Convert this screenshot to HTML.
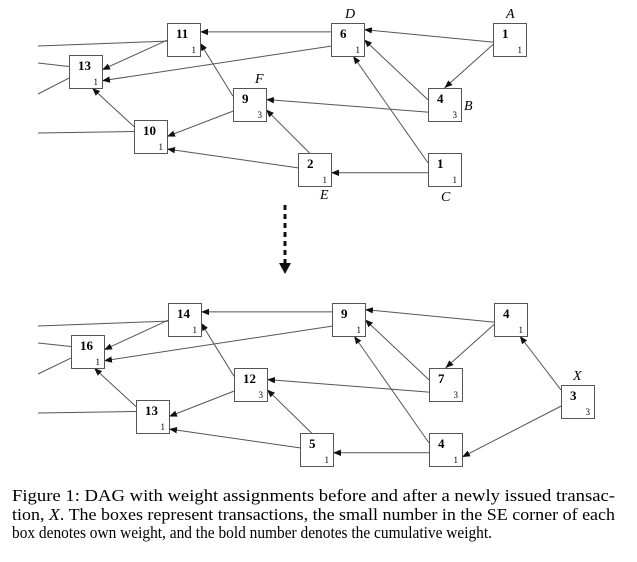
<!DOCTYPE html>
<html><head><meta charset="utf-8"><style>
body{margin:0;background:#fff}
svg{display:block}
.b{font-family:"Liberation Serif",serif;font-weight:bold;font-size:13px}
.s{font-family:"Liberation Serif",serif;font-size:9px}
.l{font-family:"Liberation Serif",serif;font-style:italic;font-size:14px}
.c{font-family:"Liberation Serif",serif;font-size:17px}
</style></head><body>
<svg id="g" width="637" height="562" viewBox="0 0 637 562">
<defs><marker id="ah" viewBox="0 0 10 10" refX="10" refY="5" markerWidth="8" markerHeight="8" markerUnits="userSpaceOnUse" orient="auto"><path d="M0,1 L10,5 L0,9 z" fill="#111"/></marker></defs>
<g id="edges"></g><g id="nodes"></g>
<g>
<line x1="285" y1="205" x2="285" y2="264" stroke="#111" stroke-width="3" stroke-dasharray="5,4"/>
<path d="M279,263 L291,263 L285,274 z" fill="#111"/>
</g>
<text class="c" x="12" y="501" textLength="603" lengthAdjust="spacingAndGlyphs">Figure 1: DAG with weight assignments before and after a newly issued transac-</text>
<text class="c" x="12" y="520" textLength="603" lengthAdjust="spacingAndGlyphs">tion, <tspan font-style="italic">X</tspan>. The boxes represent transactions, the small number in the SE corner of each</text>
<text class="c" x="12" y="538" textLength="480" lengthAdjust="spacingAndGlyphs">box denotes own weight, and the bold number denotes the cumulative weight.</text>
</svg>
<script>
const nodeIds=['t11','t6','tA','t13','t9','tB','t10','t2','tC','b14','b9','b4','b16','b12','b7','bX','b13','b5','b4b'];
const nodeX=[167,331,493,69,233,428,134,298,428,168,332,494,71,234,429,561,136,300,429];
const nodeY=[23,23,23,55,88,88,120,153,153,303,303,303,335,368,368,385,400,433,433];
const cumWeights=['11','6','1','13','9','4','10','2','1','14','9','4','16','12','7','3','13','5','4'];
const ownWeights=['1','1','1','1','3','3','1','1','1','1','1','1','1','3','3','3','1','1','1'];
const labels=['','D','A','','F','B','','E','C','','','','','','','X','','',''];
const labelPos={D:[14,-5],A:[13,-5],F:[22,-5],B:[36,22],E:[22,46],C:[13,48],X:[12,-5]};
const edgeFrom=['t6','tA','tA','t6','t11','tB','tB','tC','tC','t9','t9','t2','t2','t10',
 'b9','b4','b4','b9','b14','b7','b7','b4b','b4b','b12','b12','b5','b5','b13','bX','bX'];
const edgeTo=['t11','t6','tB','t13','t13','t6','t9','t6','t2','t11','t10','t9','t10','t13',
 'b14','b9','b7','b16','b16','b9','b12','b9','b5','b14','b13','b12','b13','b16','b4','b4b'];
// attachment points on the boxes (fractions of box side): [fromFx, fromFy, toFx, toFy]
const topAnchors=[[0,.27,1,.27],[0,.58,1,.2],[0,.65,.5,0],[0,.7,1,.78],[0,.52,1,.45],[0,.36,1,.5],[0,.73,1,.35],[0,.3,.67,1],[0,.6,1,.6],[0,.25,1,.6],[0,.7,1,.5],[.35,0,1,.65],[0,.45,1,.88],[0,.2,.7,1]];
const xAnchors=[[0,.15,.78,1],[0,.64,1,.73]];
const anchors=topAnchors.concat(topAnchors,xAnchors);
const stubs=[[38,46,'t11',0,.55],[38,63,'t13',0,.35],[38,94,'t13',0,.7],[38,133,'t10',0,.35],[38,326,'b14',0,.55],[38,343,'b16',0,.35],[38,374,'b16',0,.7],[38,413,'b13',0,.35]];
const S=33, ns='http://www.w3.org/2000/svg';
const E=document.getElementById('edges'), N=document.getElementById('nodes');
function idx(id){return nodeIds.indexOf(id);}
function mk(tag,a){const e=document.createElementNS(ns,tag);for(const k in a)e.setAttribute(k,a[k]);return e;}
for(let i=0;i<edgeFrom.length;i++){
 const a=idx(edgeFrom[i]),b=idx(edgeTo[i]),an=anchors[i];
 const l=mk('line',{x1:nodeX[a]+an[0]*S,y1:nodeY[a]+an[1]*S,x2:nodeX[b]+an[2]*S,y2:nodeY[b]+an[3]*S,stroke:'#555','stroke-width':1,'marker-end':'url(#ah)'});
 
 
 E.appendChild(l);}
for(const s of stubs){
 const b=idx(s[2]);
 const l=mk('line',{x1:s[0],y1:s[1],x2:nodeX[b]+s[3]*S,y2:nodeY[b]+s[4]*S,stroke:'#555','stroke-width':1});
 
 
 E.appendChild(l);}
for(let i=0;i<nodeIds.length;i++){
 const g=mk('g',{});
 
 
 const x=nodeX[i],y=nodeY[i];
 g.appendChild(mk('rect',{x:x+0.5,y:y+0.5,width:S,height:S,fill:'#fff',stroke:'#555','stroke-width':1}));
 const t1=mk('text',{x:x+9,y:y+15,class:'b'});t1.textContent=cumWeights[i];g.appendChild(t1);
 const t2=mk('text',{x:x+S-4,y:y+S-3,class:'s','text-anchor':'end'});t2.textContent=ownWeights[i];g.appendChild(t2);
 if(labels[i]){const p=labelPos[labels[i]];const t3=mk('text',{x:x+p[0],y:y+p[1],class:'l'});t3.textContent=labels[i];g.appendChild(t3);}
 N.appendChild(g);}
</script>
</body></html>
